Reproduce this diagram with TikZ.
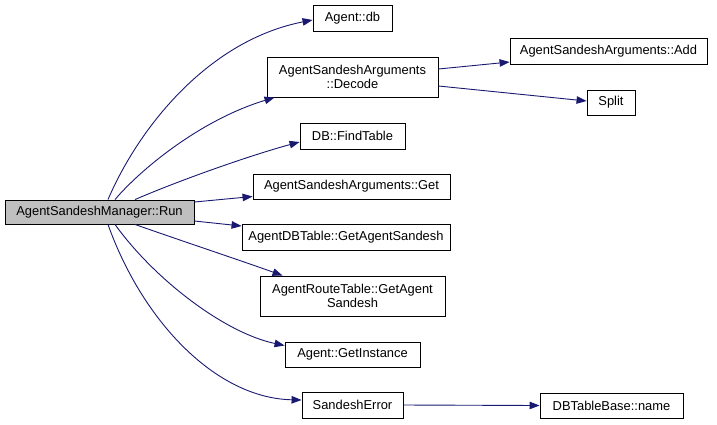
\documentclass[tikz,border=0pt]{standalone}
\usepackage{fontspec}
\setmainfont{Liberation Sans}
\usetikzlibrary{arrows.meta}
\definecolor{edgeblue}{RGB}{25,25,112}
\definecolor{rootfill}{RGB}{191,191,191}
\begin{document}
\begin{tikzpicture}[x=1pt,y=-1pt,
  fn/.style={draw=black,line width=0.9pt,fill=white,inner sep=0pt,align=center,
    font=\fontsize{12.9}{14}\selectfont},
  call/.style={draw=edgeblue,line width=0.9pt,-{Triangle[length=10pt,width=7.5pt]},fill=none}]
\useasboundingbox (0,0) rectangle (717,424);
\node[fn,fill=rootfill,minimum width=189pt,minimum height=24pt] (run) at (99.5,212) {AgentSandeshManager::Run};
\node[fn,minimum width=79pt,minimum height=26pt] (db) at (352.5,18) {Agent::db};
\node[fn,minimum width=171pt,minimum height=40pt] (decode) at (352.5,77) {AgentSandeshArguments\\::Decode};
\node[fn,minimum width=105pt,minimum height=26pt] (find) at (352.5,136) {DB::FindTable};
\node[fn,minimum width=197pt,minimum height=25pt] (get) at (351.5,186.5) {AgentSandeshArguments::Get};
\node[fn,minimum width=208pt,minimum height=26pt] (gas) at (346,237) {AgentDBTable::GetAgentSandesh};
\node[fn,minimum width=185pt,minimum height=40pt] (art) at (352.5,296) {AgentRouteTable::GetAgent\\Sandesh};
\node[fn,minimum width=135pt,minimum height=25pt] (gi) at (352.5,354.5) {Agent::GetInstance};
\node[fn,minimum width=101pt,minimum height=26pt] (se) at (352.5,405) {SandeshError};
\node[fn,minimum width=197pt,minimum height=26pt] (add) at (608.5,51) {AgentSandeshArguments::Add};
\node[fn,minimum width=48pt,minimum height=25pt] (split) at (611,102.5) {Split};
\node[fn,minimum width=143pt,minimum height=25pt] (name) at (611.5,405.5) {DBTableBase::name};
% edges
\draw[call] ([xshift=8.5pt]run.north) .. controls (140,125) and (210,40) .. ([yshift=-2pt]db.west);
\draw[call] ([xshift=15.5pt]run.north) .. controls (140,170) and (200,120) .. ([xshift=8pt]decode.south west);
\draw[call] ([xshift=35.5pt]run.north) .. controls (185,178) and (255,154) .. ([yshift=-6pt]find.west);
\draw[call] ([yshift=10pt]run.east) -- ([yshift=-10pt]get.west);
\draw[call] ([yshift=-9pt]run.east) -- ([yshift=11pt]gas.west);
\draw[call] ([xshift=35.5pt]run.south) .. controls (185,242) and (245,262) .. ([xshift=23pt]art.north west);
\draw[call] ([xshift=15.5pt]run.south) .. controls (155,280) and (225,333) .. ([yshift=9pt]gi.west);
\draw[call] ([xshift=8.5pt]run.south) .. controls (142,320) and (215,398) .. ([yshift=5pt]se.west);
\draw[call] ([yshift=8pt]decode.east) -- ([yshift=-11pt]add.west);
\draw[call] ([yshift=-9pt]decode.east) -- ([yshift=1.5pt]split.west);
\draw[call] (se.east) -- (name.west);
\end{tikzpicture}
\end{document}
